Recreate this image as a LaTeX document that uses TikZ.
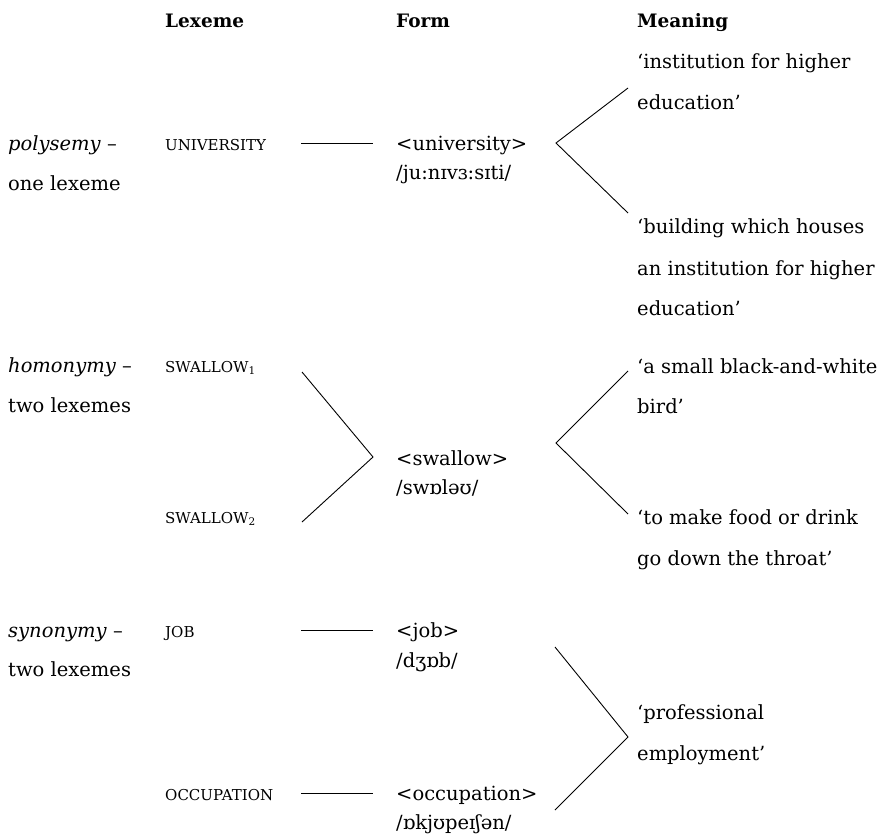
\documentclass[tikz,border=0pt]{standalone}
\usepackage{fontspec}
\setmainfont{DejaVu Serif}
\begin{document}
\begin{tikzpicture}[x=1pt,y=-1pt,
    txt/.style={anchor=base west,inner sep=0pt,font=\fontsize{19.5}{22}\selectfont},
    head/.style={txt,font=\fontsize{18.5}{21}\selectfont\bfseries},
    lex/.style={txt,font=\fontsize{15}{17}\selectfont},
    link/.style={line width=0.9pt}]
  \useasboundingbox (0,0) rectangle (890,833);

  % column heads
  \node[head] (hlex) at (165,27) {Lexeme};
  \node[head] (hform) at (396,27) {Form};
  \node[head] (hmean) at (637,27) {Meaning};

  % polysemy
  \node[txt] (poly) at (8,150) {\textit{polysemy} –};
  \node[txt] (poly2) at (8,190) {one lexeme};
  \node[lex] (univ) at (165,150) {UNIVERSITY};
  \node[txt] (funiv) at (396,150) {<university>};
  \node[txt] (puniv) at (396,179) {/ju:nɪvɜ:sɪti/};
  \node[txt] (ma1) at (637,68) {‘institution for higher};
  \node[txt] (ma2) at (637,109) {education’};
  \node[txt] (mb1) at (637,233) {‘building which houses};
  \node[txt] (mb2) at (637,275) {an institution for higher};
  \node[txt] (mb3) at (637,315) {education’};

  % homonymy
  \node[txt] (homo) at (8,372) {\textit{homonymy} –};
  \node[txt] (homo2) at (8,412) {two lexemes};
  \node[lex] (swa) at (165,372) {SWALLOW\textsubscript{1}};
  \node[lex] (swb) at (165,523) {SWALLOW\textsubscript{2}};
  \node[txt] (fswa) at (396,465) {<swallow>};
  \node[txt] (pswa) at (396,494) {/swɒləʊ/};
  \node[txt] (mc1) at (637,373) {‘a small black-and-white};
  \node[txt] (mc2) at (637,413) {bird’};
  \node[txt] (md1) at (637,524) {‘to make food or drink};
  \node[txt] (md2) at (637,565) {go down the throat’};

  % synonymy
  \node[txt] (syno) at (8,637) {\textit{synonymy} –};
  \node[txt] (syno2) at (8,676) {two lexemes};
  \node[lex] (job) at (165,637) {JOB};
  \node[lex] (occ) at (165,800) {OCCUPATION};
  \node[txt] (fjob) at (396,637) {<job>};
  \node[txt] (pjob) at (396,667) {/dʒɒb/};
  \node[txt] (focc) at (396,800) {<occupation>};
  \node[txt] (pocc) at (396,829) {/ɒkjʊpeɪʃən/};
  \node[txt] (me1) at (637,719) {‘professional};
  \node[txt] (me2) at (637,760) {employment’};

  % straight links lexeme -- form
  \foreach \n/\y in {univ/143,job/630,occ/793}{
    \coordinate (\n-l) at (301,\y);
    \coordinate (\n-r) at (373,\y);
    \draw[link] (\n-l) -- (\n-r);
  }

  % forks
  \coordinate (ua) at (628,88);
  \coordinate (uo) at (556,143);
  \coordinate (ub) at (628,213);
  \draw[link] (ua) -- (uo) -- (ub);

  \coordinate (sa) at (302,372);
  \coordinate (so) at (373,457);
  \coordinate (sb) at (302,522);
  \draw[link] (sa) -- (so) -- (sb);

  \coordinate (ta) at (628,371);
  \coordinate (to) at (556,443);
  \coordinate (tb) at (628,514);
  \draw[link] (ta) -- (to) -- (tb);

  \coordinate (ja) at (555,647);
  \coordinate (jo) at (628,737);
  \coordinate (jb) at (555,810);
  \draw[link] (ja) -- (jo) -- (jb);
\end{tikzpicture}
\end{document}
